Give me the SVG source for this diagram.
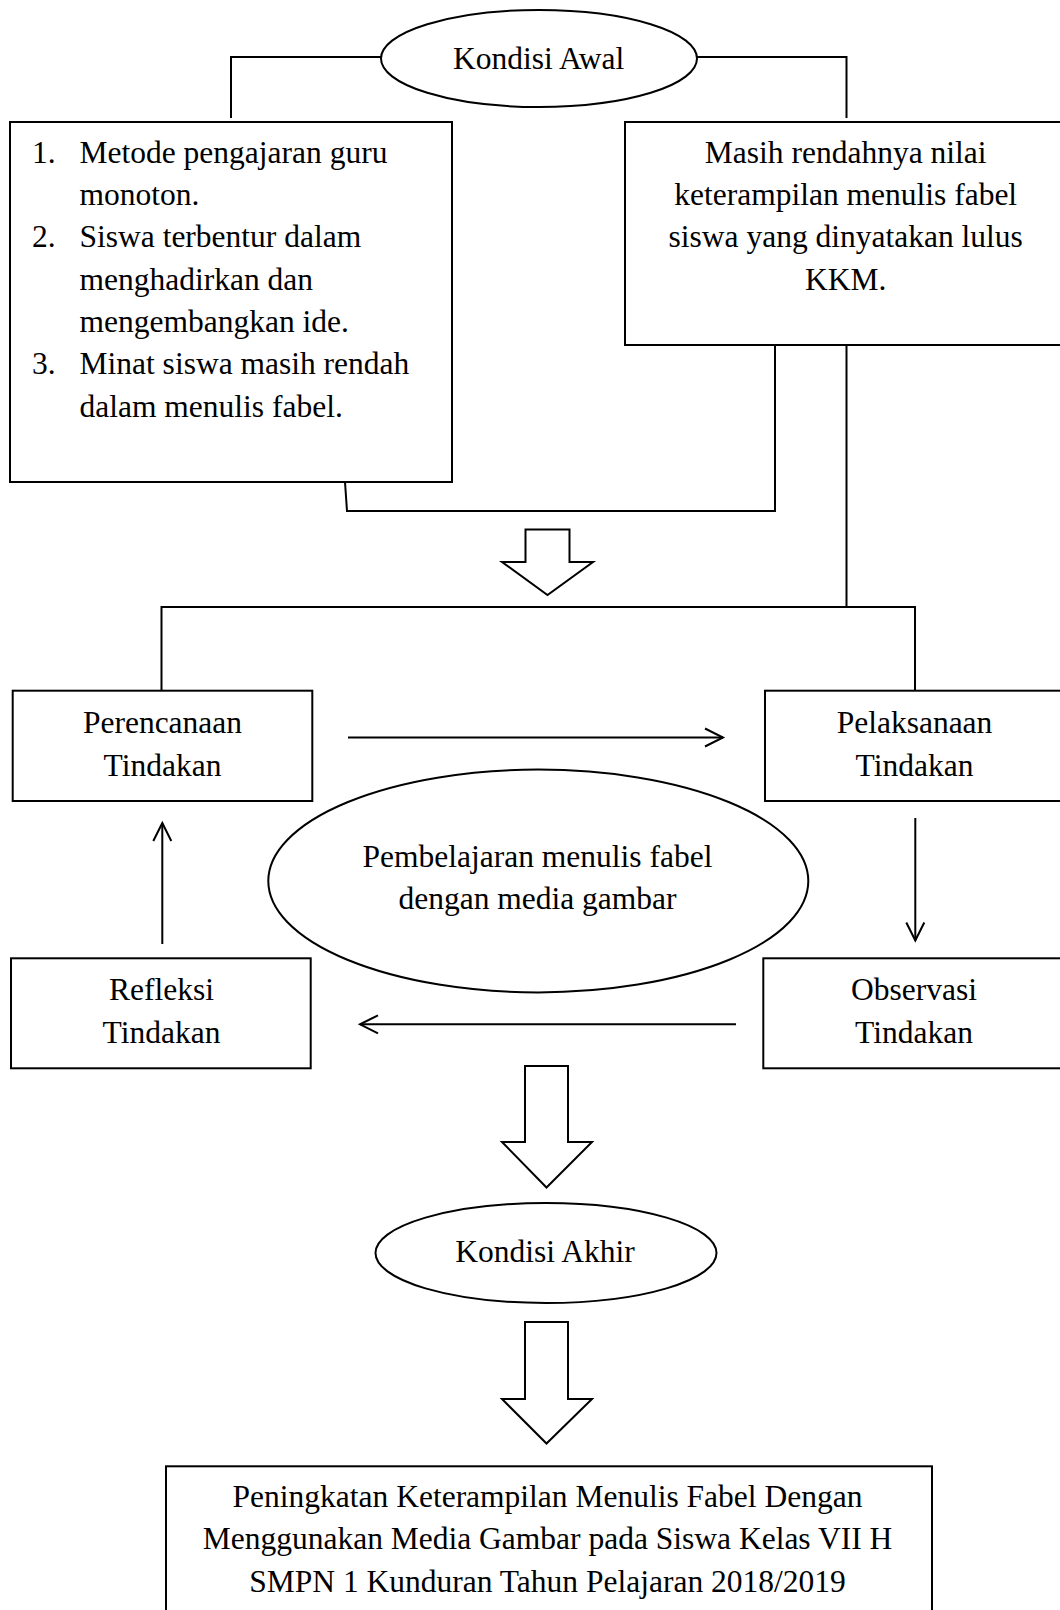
<svg xmlns="http://www.w3.org/2000/svg" width="1060" height="1610" viewBox="0 0 1060 1610">
<defs>
<style>
.box{fill:#fff;stroke:#000;stroke-width:2}
.ln{fill:none;stroke:#000;stroke-width:2}
.blk{fill:#fff;stroke:#000;stroke-width:2;stroke-linejoin:miter}
.t{font-family:"Liberation Serif","Times New Roman",serif;font-size:31.5px;fill:#000}
.c{text-anchor:middle}
</style>
<marker id="arr" markerUnits="userSpaceOnUse" markerWidth="24" markerHeight="24" viewBox="0 0 24 24" refX="21" refY="12" orient="auto">
<path d="M3,3 L21,12 L3,21" fill="none" stroke="#000" stroke-width="2"/>
</marker>
</defs>
<rect width="1060" height="1610" fill="#fff"/>

<g id="connectors">
<polyline class="ln" points="381,57 231,57 231,118"/>
<polyline class="ln" points="697,57 846.5,57 846.5,118"/>
<polyline class="ln" points="345,482 347,511 775,511 775,345"/>
<line class="ln" x1="846.5" y1="333" x2="846.5" y2="607"/>
<polyline class="ln" points="161.5,690 161.5,607 915,607 915,690"/>
<line class="ln" x1="348" y1="737.5" x2="723" y2="737.5" marker-end="url(#arr)"/>
<line class="ln" x1="915.3" y1="818" x2="915.3" y2="940.5" marker-end="url(#arr)"/>
<line class="ln" x1="736" y1="1024.3" x2="360" y2="1024.3" marker-end="url(#arr)"/>
<line class="ln" x1="162.3" y1="944" x2="162.3" y2="823" marker-end="url(#arr)"/>
<polygon class="blk" points="525.5,529.5 569.5,529.5 569.5,562 593,562 547.5,595 502,562 525.5,562"/>
<polygon class="blk" points="525,1066 568,1066 568,1142 592,1142 546.5,1187.5 502,1142 525,1142"/>
<polygon class="blk" points="525,1322 568,1322 568,1399 592,1399 546.5,1443.5 502,1399 525,1399"/>
</g>

<g id="kondisi-awal">
<ellipse class="box" cx="539" cy="58.5" rx="158" ry="48.5"/>
<text class="t c" x="538.7" y="69">Kondisi Awal</text>
</g>

<g id="masalah-guru">
<rect class="box" x="10" y="122" width="442" height="360"/>
<g class="t">
<text x="32" y="162.5">1.</text>
<text x="79.5" y="162.5">Metode pengajaran guru</text>
<text x="79.5" y="205">monoton.</text>
<text x="32" y="247.3">2.</text>
<text x="79.5" y="247.3">Siswa terbentur dalam</text>
<text x="79.5" y="289.7">menghadirkan dan</text>
<text x="79.5" y="332">mengembangkan ide.</text>
<text x="32" y="374.4">3.</text>
<text x="79.5" y="374.4">Minat siswa masih rendah</text>
<text x="79.5" y="416.8">dalam menulis fabel.</text>
</g>
</g>

<g id="masalah-nilai">
<rect class="box" x="625" y="122" width="445" height="223"/>
<g class="t c">
<text x="845.7" y="162.5">Masih rendahnya nilai</text>
<text x="845.7" y="205">keterampilan menulis fabel</text>
<text x="845.7" y="247.3">siswa yang dinyatakan lulus</text>
<text x="845.7" y="289.7">KKM.</text>
</g>
</g>

<g id="perencanaan">
<rect class="box" x="12.7" y="690.7" width="299.6" height="110.3"/>
<g class="t c">
<text x="162.5" y="732.7">Perencanaan</text>
<text x="162.5" y="775.7">Tindakan</text>
</g>
</g>

<g id="pelaksanaan">
<rect class="box" x="765" y="690.7" width="305" height="110.3"/>
<g class="t c">
<text x="914.5" y="732.7">Pelaksanaan</text>
<text x="914.5" y="775.7">Tindakan</text>
</g>
</g>

<g id="pembelajaran">
<ellipse class="box" cx="538.3" cy="881" rx="270" ry="111.4"/>
<g class="t c">
<text x="537.5" y="867.3">Pembelajaran menulis fabel</text>
<text x="537.5" y="909">dengan media gambar</text>
</g>
</g>

<g id="refleksi">
<rect class="box" x="11" y="958.3" width="299.7" height="110"/>
<g class="t c">
<text x="161.5" y="1000">Refleksi</text>
<text x="161.5" y="1042.7">Tindakan</text>
</g>
</g>

<g id="observasi">
<rect class="box" x="763.3" y="958.3" width="306.7" height="110"/>
<g class="t c">
<text x="914" y="1000">Observasi</text>
<text x="914" y="1042.7">Tindakan</text>
</g>
</g>

<g id="kondisi-akhir">
<ellipse class="box" cx="546" cy="1253" rx="170.5" ry="50"/>
<text class="t c" x="545" y="1262">Kondisi Akhir</text>
</g>

<g id="hasil">
<rect class="box" x="166" y="1466.3" width="766" height="170"/>
<g class="t c">
<text x="547.5" y="1506.5">Peningkatan Keterampilan Menulis Fabel Dengan</text>
<text x="547.5" y="1549">Menggunakan Media Gambar pada Siswa Kelas VII H</text>
<text x="547.5" y="1591.5">SMPN 1 Kunduran Tahun Pelajaran 2018/2019</text>
</g>
</g>
</svg>
